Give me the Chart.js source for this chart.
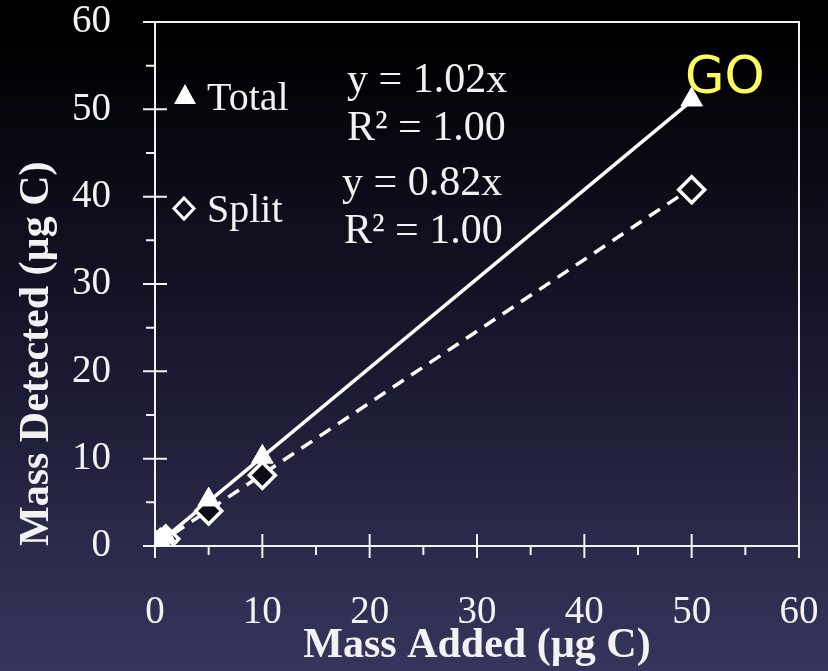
<!DOCTYPE html>
<html>
<head>
<meta charset="utf-8">
<script src="https://cdn.jsdelivr.net/npm/chart.js@4/dist/chart.umd.min.js"></script>
<style>
  html, body { margin: 0; padding: 0; background: #000; }
  #wrap { width: 828px; height: 671px; position: relative; }
</style>
</head>
<body>
<div id="wrap"><canvas id="c" width="828" height="671"></canvas></div>
<script>
// Calibration data: mass of carbon added vs. mass detected (µg C)
const massAdded = [0.1, 0.5, 1, 5, 10, 50];
const totalDetected = [0.1, 0.5, 1.0, 5.3, 10.2, 51.1];
const splitDetected = [0.1, 0.4, 0.8, 4.0, 8.1, 40.8];

// Fitted slopes (forced through origin) and their R² values
const fitSlopes = { total: 1.02, split: 0.82 };
const fitR2 = { total: 1.00, split: 1.00 };
const fitRange = [0, 50];

const axisTicks = [0, 10, 20, 30, 40, 50, 60];
const axisMinorTicks = [5, 15, 25, 35, 45, 55];

const seriesNames = ['Total', 'Split'];
const highlightLabel = 'GO';

const FG = '#f2f2f2';
const MARK = '#ffffff';
const SERIF = '"Liberation Serif", "Times New Roman", serif';

const toPoints = (xs, ys) => xs.map((x, i) => ({ x, y: ys[i] }));
const fitLine = slope => fitRange.map(x => ({ x, y: slope * x }));

// Dark vertical gradient behind everything
const backgroundPlugin = {
  id: 'bg',
  beforeDraw(chart) {
    const { ctx, width, height } = chart;
    const g = ctx.createLinearGradient(0, 0, 0, height);
    g.addColorStop(0, '#000000');
    g.addColorStop(0.1, '#020205');
    g.addColorStop(0.33, '#0f0e1c');
    g.addColorStop(0.48, '#16152a');
    g.addColorStop(0.63, '#1f1e38');
    g.addColorStop(0.97, '#34345a');
    g.addColorStop(1, '#36365c');
    ctx.save();
    ctx.fillStyle = g;
    ctx.fillRect(0, 0, width, height);
    ctx.restore();
  }
};

// Box frame with crossing major ticks and outward minor ticks
const framePlugin = {
  id: 'frame',
  beforeDatasetsDraw(chart) {
    const { ctx } = chart;
    const xs = chart.scales.x, ys = chart.scales.y;
    const L = xs.getPixelForValue(0), R = xs.getPixelForValue(60);
    const B = ys.getPixelForValue(0), T = ys.getPixelForValue(60);
    ctx.save();
    ctx.strokeStyle = FG;
    ctx.lineWidth = 2;
    ctx.beginPath();
    ctx.moveTo(L, T); ctx.lineTo(R, T); ctx.lineTo(R, B); ctx.lineTo(L, B); ctx.closePath();
    axisTicks.forEach(v => {
      const py = ys.getPixelForValue(v);
      ctx.moveTo(L - 12, py); ctx.lineTo(L + 12, py);
      const px = xs.getPixelForValue(v);
      ctx.moveTo(px, B - 12); ctx.lineTo(px, B + 12);
    });
    axisMinorTicks.forEach(v => {
      const py = ys.getPixelForValue(v);
      ctx.moveTo(L - 9, py); ctx.lineTo(L, py);
      const px = xs.getPixelForValue(v);
      ctx.moveTo(px, B); ctx.lineTo(px, B + 9);
    });
    ctx.stroke();
    ctx.restore();
  },
  afterDatasetsDraw(chart) {
    const { ctx } = chart;
    ctx.save();
    // Legend entries inside the plot
    ctx.fillStyle = FG;
    ctx.strokeStyle = MARK;
    ctx.font = '40px ' + SERIF;
    ctx.textBaseline = 'alphabetic';
    ctx.textAlign = 'left';
    // filled triangle
    ctx.beginPath();
    ctx.moveTo(185, 84); ctx.lineTo(196, 104); ctx.lineTo(174, 104); ctx.closePath();
    ctx.fillStyle = MARK;
    ctx.fill();
    ctx.fillStyle = FG;
    ctx.fillText(seriesNames[0], 207, 110);
    // open diamond
    ctx.lineWidth = 3;
    ctx.beginPath();
    ctx.moveTo(184, 198); ctx.lineTo(194, 208.5); ctx.lineTo(184, 219); ctx.lineTo(174, 208.5); ctx.closePath();
    ctx.stroke();
    ctx.fillText(seriesNames[1], 207, 222);

    // Fit equations
    ctx.font = '42px ' + SERIF;
    ctx.fillText('y = ' + fitSlopes.total.toFixed(2) + 'x', 347, 92);
    ctx.fillText('R² = ' + fitR2.total.toFixed(2), 347, 140);
    ctx.fillText('y = ' + fitSlopes.split.toFixed(2) + 'x', 342, 195);
    ctx.fillText('R² = ' + fitR2.split.toFixed(2), 344, 243);

    // Highlight label
    ctx.fillStyle = '#ffff5c';
    ctx.font = '51px "DejaVu Sans", sans-serif';
    ctx.fillText(highlightLabel, 685, 93);
    ctx.restore();
  }
};

new Chart(document.getElementById('c'), {
  type: 'scatter',
  data: {
    datasets: [
      {
        label: 'Total fit',
        data: fitLine(fitSlopes.total),
        showLine: true,
        borderColor: MARK,
        borderWidth: 3.5,
        pointRadius: 0,
        order: 3
      },
      {
        label: 'Split fit',
        data: fitLine(fitSlopes.split),
        showLine: true,
        borderColor: MARK,
        borderWidth: 3.5,
        borderDash: [13, 9],
        pointRadius: 0,
        order: 4
      },
      {
        label: seriesNames[1],
        data: toPoints(massAdded, splitDetected),
        pointStyle: 'rectRot',
        pointRadius: 13,
        pointBorderWidth: 3.5,
        pointBackgroundColor: '#0c0c16',
        pointBorderColor: MARK,
        order: 2
      },
      {
        label: seriesNames[0],
        data: toPoints(massAdded, totalDetected),
        pointStyle: 'triangle',
        pointRadius: 12.5,
        pointBorderWidth: 1,
        pointBackgroundColor: MARK,
        pointBorderColor: MARK,
        order: 1
      }
    ]
  },
  options: {
    responsive: false,
    animation: false,
    layout: { padding: { top: 22, right: 29, left: 0, bottom: 0 } },
    plugins: { legend: { display: false }, tooltip: { enabled: false } },
    scales: {
      x: {
        type: 'linear',
        min: 0, max: 60,
        afterFit(scale) {
          scale.height = 125;
          scale.paddingLeft = 0; scale.paddingRight = 0;
        },
        afterBuildTicks(scale) { scale.ticks = axisTicks.map(v => ({ value: v })); },
        grid: { display: false },
        border: { display: false },
        ticks: {
          color: FG,
          padding: 35,
          maxRotation: 0,
          font: { family: SERIF, size: 39 }
        },
        title: {
          display: true,
          text: 'Mass Added (µg C)',
          color: FG,
          font: { family: SERIF, size: 42, weight: 'bold' },
          padding: { top: 0, bottom: 0 }
        }
      },
      y: {
        type: 'linear',
        min: 0, max: 60,
        afterFit(scale) {
          scale.width = 155;
          scale.paddingTop = 0; scale.paddingBottom = 0;
        },
        afterBuildTicks(scale) { scale.ticks = axisTicks.map(v => ({ value: v })); },
        grid: { display: false },
        border: { display: false },
        ticks: {
          color: FG,
          padding: 36,
          font: { family: SERIF, size: 39 }
        },
        title: {
          display: true,
          text: 'Mass Detected (µg C)',
          align: 'start',
          color: FG,
          font: { family: SERIF, size: 42, weight: 'bold' },
          padding: { top: 12, bottom: 0 }
        }
      }
    }
  },
  plugins: [backgroundPlugin, framePlugin]
});
</script>
</body>
</html>
